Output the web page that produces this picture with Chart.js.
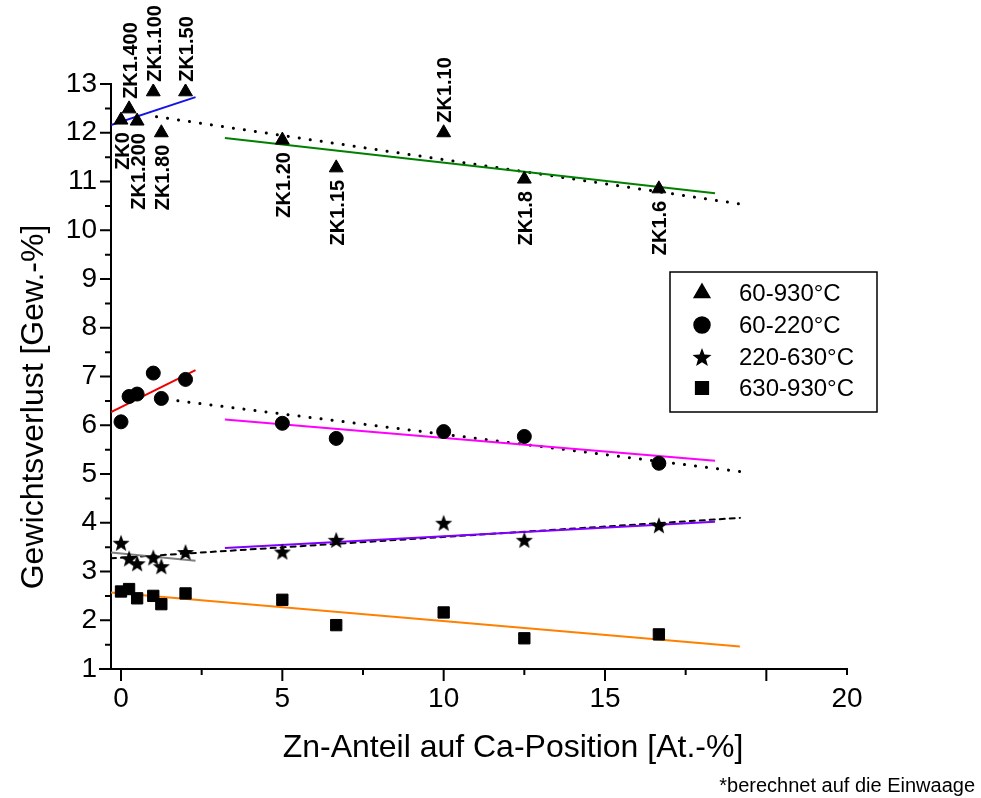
<!DOCTYPE html>
<html lang="de">
<head>
<meta charset="utf-8">
<title>Gewichtsverlust</title>
<script src="https://cdn.jsdelivr.net/npm/chart.js@4.4.1/dist/chart.umd.min.js"></script>
<style>
  html, body { margin: 0; padding: 0; background: #fff; }
  canvas { display: block; }
</style>
</head>
<body>
<canvas id="grafico" width="981" height="798"></canvas>
<script>
  // Proben und Zn-Anteil auf Ca-Position [At.-%]
  const proben = ['ZK0', 'ZK1.400', 'ZK1.200', 'ZK1.100', 'ZK1.80', 'ZK1.50', 'ZK1.20', 'ZK1.15', 'ZK1.10', 'ZK1.8', 'ZK1.6'];
  const znAnteil = [0, 0.25, 0.5, 1, 1.25, 2, 5, 6.67, 10, 12.5, 16.67];
  const beschriftungOben = [false, true, false, true, false, true, false, false, true, false, false];

  // Gewichtsverlust [Gew.-%] je Temperaturbereich
  const verlust60_930 = [12.26, 12.49, 12.24, 12.84, 12.0, 12.84, 11.85, 11.28, 12.0, 11.05, 10.85];
  const verlust60_220 = [6.07, 6.59, 6.64, 7.07, 6.55, 6.94, 6.04, 5.73, 5.87, 5.77, 5.22];
  const verlust220_630 = [3.59, 3.27, 3.17, 3.29, 3.11, 3.40, 3.41, 3.65, 4.0, 3.65, 3.95];
  const verlust630_930 = [2.59, 2.64, 2.45, 2.50, 2.33, 2.55, 2.42, 1.90, 2.16, 1.63, 1.71];

  // Ausgleichsgeraden (Anfang, Ende) als [x, y]
  const fitBlau = [[-0.31, 12.16], [2.31, 12.73]];
  const fitGruen = [[3.22, 11.89], [18.41, 10.76]];
  const fitPunkt930 = [[1.1, 12.33], [19.18, 10.54]];
  const fitRot = [[-0.31, 6.27], [2.31, 7.13]];
  const fitMagenta = [[3.22, 6.12], [18.41, 5.27]];
  const fitPunkt220 = [[1.42, 6.53], [19.18, 5.05]];
  const fitGrau = [[-0.31, 3.39], [2.31, 3.22]];
  const fitLila = [[3.22, 3.48], [18.41, 4.02]];
  const fitStrich630 = [[-0.31, 3.27], [19.18, 4.10]];
  const fitOrange = [[-0.31, 2.57], [19.18, 1.46]];

  // Achsenteilung
  const xTickWerte = [0, 2.5, 5, 7.5, 10, 12.5, 15, 17.5, 20, 22.5];
  const xTickText = ['0', '', '5', '', '10', '', '15', '', '', '20'];
  const yTickWerte = Array.from({ length: 25 }, (_, i) => 1 + i * 0.5);

  const schrift = 'Liberation Sans, Arial, sans-serif';

  function sternBild(r) {
    const c = document.createElement('canvas');
    c.width = c.height = Math.ceil(r * 2) + 2;
    const ctx = c.getContext('2d');
    const m = c.width / 2;
    ctx.beginPath();
    for (let i = 0; i < 10; i++) {
      const rad = i % 2 === 0 ? r : r * 0.42;
      const a = -Math.PI / 2 + i * Math.PI / 5;
      ctx.lineTo(m + rad * Math.cos(a), m + 1 + rad * Math.sin(a));
    }
    ctx.closePath();
    ctx.fillStyle = '#000';
    ctx.fill();
    return c;
  }

  function punkte(werte) {
    return znAnteil.map((x, i) => ({ x: x, y: werte[i] }));
  }

  function messreihe(label, werte, stil, radius) {
    return {
      label: label,
      data: punkte(werte),
      pointStyle: stil,
      pointRadius: radius,
      pointHoverRadius: radius,
      backgroundColor: '#000',
      borderColor: '#000',
      borderWidth: 1,
      showLine: false
    };
  }

  function gerade(paar, farbe, strich, breite) {
    return {
      label: '',
      data: paar.map(p => ({ x: p[0], y: p[1] })),
      showLine: true,
      pointRadius: 0,
      borderColor: farbe,
      borderWidth: breite || 2,
      borderDash: strich || [],
      borderCapStyle: strich ? 'round' : 'butt',
      fill: false
    };
  }

  const stern = sternBild(9);
  const sternLegende = sternBild(10);

  // Teilstriche, Achsentitel, Probennamen und Legende
  const zeichnen = {
    id: 'zeichnen',
    afterDraw(chart) {
      const ctx = chart.ctx;
      const xs = chart.scales.x, ys = chart.scales.y;
      const a = chart.chartArea;
      ctx.save();
      ctx.strokeStyle = '#000';
      ctx.lineWidth = 2;
      ctx.beginPath();
      ctx.moveTo(a.left - 12, a.bottom);
      ctx.lineTo(a.left, a.bottom);
      xTickWerte.forEach(v => {
        const px = xs.getPixelForValue(v);
        const lang = v % 5 === 0 ? 12 : 6;
        ctx.moveTo(px, a.bottom);
        ctx.lineTo(px, a.bottom + lang);
      });
      yTickWerte.forEach(v => {
        const py = ys.getPixelForValue(v);
        const lang = Number.isInteger(v) ? 11 : 6;
        ctx.moveTo(a.left, py);
        ctx.lineTo(a.left - lang, py);
      });
      ctx.stroke();

      // Achsentitel
      ctx.fillStyle = '#000';
      ctx.font = '32px ' + schrift;
      ctx.textAlign = 'center';
      ctx.textBaseline = 'alphabetic';
      ctx.fillText('Zn-Anteil auf Ca-Position [At.-%]', 513, 757);
      ctx.save();
      ctx.translate(43, 407);
      ctx.rotate(-Math.PI / 2);
      ctx.fillText('Gewichtsverlust [Gew.-%]', 0, 0);
      ctx.restore();
      ctx.font = '20px ' + schrift;
      ctx.textAlign = 'right';
      ctx.fillText('*berechnet auf die Einwaage', 975, 792);

      // Probennamen an den 60-930°C Punkten
      ctx.font = 'bold 20px ' + schrift;
      ctx.textBaseline = 'middle';
      proben.forEach((name, i) => {
        const px = xs.getPixelForValue(znAnteil[i]);
        const py = ys.getPixelForValue(verlust60_930[i]);
        ctx.save();
        ctx.translate(px + 2, py);
        ctx.rotate(-Math.PI / 2);
        if (beschriftungOben[i]) {
          ctx.textAlign = 'left';
          ctx.fillText(name, 10, 0);
        } else {
          ctx.textAlign = 'right';
          ctx.fillText(name, -12, 0);
        }
        ctx.restore();
      });

      // Legende
      ctx.lineWidth = 1.5;
      ctx.strokeRect(670, 272, 207, 140);
      ctx.font = '24px ' + schrift;
      ctx.textAlign = 'left';
      const zeilen = [293, 325, 357, 388];
      for (let i = 0; i < 4; i++) {
        const ds = chart.data.datasets[i];
        ctx.fillStyle = '#000';
        ctx.strokeStyle = '#000';
        Chart.helpers.drawPoint(ctx, {
          pointStyle: ds.pointStyle === stern ? sternLegende : ds.pointStyle,
          radius: ds.pointRadius + 1,
          borderWidth: 1,
          rotation: 0
        }, 702, zeilen[i]);
        ctx.fillText(ds.label, 739, zeilen[i] + 1);
      }
      ctx.restore();
    }
  };

  const datensaetze = [
    messreihe('60-930°C', verlust60_930, 'triangle', 8),
    messreihe('60-220°C', verlust60_220, 'circle', 7),
    messreihe('220-630°C', verlust220_630, stern, 8),
    messreihe('630-930°C', verlust630_930, 'rect', 8),
    gerade(fitBlau, 'rgb(20,20,230)'),
    gerade(fitGruen, 'rgb(0,128,0)'),
    gerade(fitPunkt930, '#000', [0.1, 11], 3),
    gerade(fitRot, 'rgb(240,0,0)'),
    gerade(fitMagenta, 'rgb(255,0,255)'),
    gerade(fitPunkt220, '#000', [0.1, 11], 3),
    gerade(fitGrau, 'rgb(128,128,128)'),
    gerade(fitLila, 'rgb(128,0,255)'),
    gerade(fitStrich630, '#000', [5, 5]),
    gerade(fitOrange, 'rgb(255,128,0)')
  ];

  new Chart(document.getElementById('grafico'), {
    type: 'scatter',
    data: { datasets: datensaetze },
    options: {
      responsive: false,
      animation: false,
      layout: { padding: { left: 0, top: 84, right: 134, bottom: 0 } },
      plugins: {
        legend: { display: false },
        tooltip: { enabled: false },
        title: { display: false }
      },
      scales: {
        x: {
          type: 'linear',
          min: -0.31,
          max: 22.5,
          afterBuildTicks: s => { s.ticks = xTickWerte.map(v => ({ value: v })); },
          afterFit: s => { s.height = 129; },
          grid: { display: false, drawTicks: false },
          border: { display: true, color: '#000', width: 2 },
          ticks: {
            autoSkip: false,
            maxRotation: 0,
            padding: 13,
            color: '#000',
            font: { family: schrift, size: 28 },
            callback: v => xTickText[xTickWerte.indexOf(v)]
          }
        },
        y: {
          type: 'linear',
          min: 1,
          max: 13,
          afterBuildTicks: s => { s.ticks = yTickWerte.map(v => ({ value: v })); },
          afterFit: s => { s.width = 111; },
          grid: { display: false, drawTicks: false },
          border: { display: true, color: '#000', width: 2 },
          ticks: {
            autoSkip: false,
            padding: 14,
            color: '#000',
            font: { family: schrift, size: 28 },
            callback: v => Number.isInteger(v) ? String(v) : ''
          }
        }
      }
    },
    plugins: [zeichnen]
  });
</script>
</body>
</html>
